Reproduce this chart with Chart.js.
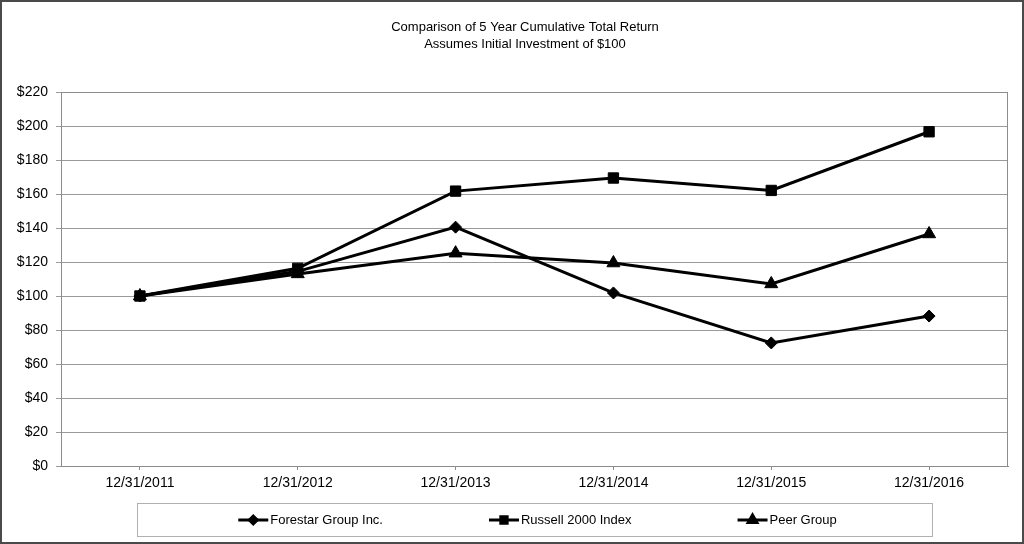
<!DOCTYPE html>
<html>
<head>
<meta charset="utf-8">
<title>Comparison of 5 Year Cumulative Total Return</title>
<script src="https://cdn.jsdelivr.net/npm/chart.js@4/dist/chart.umd.min.js"></script>
<style>
    html, body { margin: 0; padding: 0; background: #fff; }
    #wrap { width: 1024px; height: 544px; position: relative; }
</style>
</head>
<body>
<div id="wrap"><canvas id="returnChart"></canvas></div>
<script>
// 数据
const years = ['12/31/2011', '12/31/2012', '12/31/2013', '12/31/2014', '12/31/2015', '12/31/2016'];
const forestar = [100, 114.5, 140.5, 101.8, 72.4, 88.2];
const russell = [100, 116.3, 161.7, 169.4, 162.1, 196.6];
const peerGroup = [100, 113.0, 125.2, 119.4, 107.1, 136.5];
const seriesNames = ['Forestar Group Inc.', 'Russell 2000 Index', 'Peer Group'];
const titleLines = ['Comparison of 5 Year Cumulative Total Return', 'Assumes Initial Investment of $100'];

const FONT = '"Liberation Sans", Arial, sans-serif';

// 点样式
function drawMarker(ctx, style, radius, x, y) {
    if (Chart.helpers && Chart.helpers.drawPoint) {
        Chart.helpers.drawPoint(ctx, { pointStyle: style, radius: radius, rotation: 0, borderWidth: 1 }, x, y);
        return;
    }
    ctx.beginPath();
    ctx.arc(x, y, radius, 0, Math.PI * 2);
    ctx.fill();
}

// 标题、图例框、外边框
const framePlugin = {
    id: 'framePlugin',
    afterDraw(chart) {
        const { ctx, chartArea, width, height } = chart;
        const cx = (chartArea.left + chartArea.right) / 2;
        ctx.save();

        // 绘图区边框
        ctx.strokeStyle = '#8c8c8c';
        ctx.lineWidth = 1;
        ctx.strokeRect(Math.round(chartArea.left) + 0.5, Math.round(chartArea.top) + 0.5,
            Math.round(chartArea.right - chartArea.left) - 1, Math.round(chartArea.bottom - chartArea.top));

        // 标题
        ctx.fillStyle = '#000';
        ctx.font = '13px ' + FONT;
        ctx.textAlign = 'center';
        ctx.textBaseline = 'middle';
        ctx.fillText(titleLines[0], 525, 27);
        ctx.fillText(titleLines[1], 525, 44);

        // 图例框
        const bw = 795, bh = 33, by = 503;
        ctx.strokeStyle = '#b0b0b0';
        ctx.strokeRect(Math.round(cx - bw / 2) + 0.5, by + 0.5, bw, bh);

        const datasets = chart.data.datasets;
        const gap = 106, lineW = 30, textGap = 2;
        const widths = datasets.map(ds => lineW + textGap + ctx.measureText(ds.label).width);
        const total = widths.reduce((a, b) => a + b, 0) + gap * (datasets.length - 1);
        let x = cx - total / 2 + 3;
        const ly = by + bh / 2 + 0.5;
        ctx.textAlign = 'left';
        datasets.forEach((ds, i) => {
            ctx.strokeStyle = '#000';
            ctx.lineWidth = 3;
            ctx.beginPath();
            ctx.moveTo(x, ly);
            ctx.lineTo(x + lineW, ly);
            ctx.stroke();
            ctx.fillStyle = '#000';
            ctx.strokeStyle = '#000';
            drawMarker(ctx, ds.pointStyle, ds.legendRadius, x + lineW / 2, ly);
            ctx.fillStyle = '#000';
            ctx.fillText(ds.label, x + lineW + textGap, ly);
            x += widths[i] + gap;
        });

        // 外边框
        ctx.strokeStyle = '#4a4a4a';
        ctx.lineWidth = 2;
        ctx.strokeRect(1, 1, width - 2, height - 2);
        ctx.restore();
    }
};

function makeSeries(label, data, style, radius, legendRadius, order) {
    return {
        label: label,
        data: data,
        order: order,
        borderColor: '#000',
        backgroundColor: '#000',
        borderWidth: 3,
        pointStyle: style,
        pointRadius: radius,
        pointHoverRadius: radius,
        pointBackgroundColor: '#000',
        pointBorderColor: '#000',
        pointBorderWidth: 1,
        legendRadius: legendRadius,
        tension: 0,
        fill: false
    };
}

new Chart(document.getElementById('returnChart').getContext('2d'), {
    type: 'line',
    data: {
        labels: years,
        datasets: [
            makeSeries(seriesNames[0], forestar, 'rectRot', 6, 4, 2),
            makeSeries(seriesNames[1], russell, 'rect', 7.3, 4.5, 0),
            makeSeries(seriesNames[2], peerGroup, 'triangle', 7.5, 5, 1)
        ]
    },
    options: {
        responsive: true,
        maintainAspectRatio: false,
        animation: false,
        layout: { padding: { top: 92, right: 16, left: 0, bottom: 0 } },
        plugins: {
            legend: { display: false },
            title: { display: false },
            tooltip: { enabled: false }
        },
        scales: {
            x: {
                offset: true,
                grid: {
                    display: true,
                    drawOnChartArea: false,
                    drawTicks: true,
                    tickLength: 4,
                    color: '#8c8c8c'
                },
                border: { color: '#8c8c8c', width: 1 },
                ticks: {
                    color: '#000',
                    padding: 5,
                    maxRotation: 0,
                    font: { family: FONT, size: 14 }
                },
                afterFit(scale) { scale.height = 78; }
            },
            y: {
                min: 0,
                max: 220,
                grid: {
                    color: '#9a9a9a',
                    lineWidth: 1,
                    tickLength: 5,
                    drawTicks: true
                },
                border: { color: '#8c8c8c', width: 1 },
                ticks: {
                    stepSize: 20,
                    color: '#000',
                    padding: 8,
                    font: { family: FONT, size: 14 },
                    callback: value => '$' + value
                },
                afterFit(scale) { scale.width = 61; }
            }
        }
    },
    plugins: [framePlugin]
});
</script>
</body>
</html>
